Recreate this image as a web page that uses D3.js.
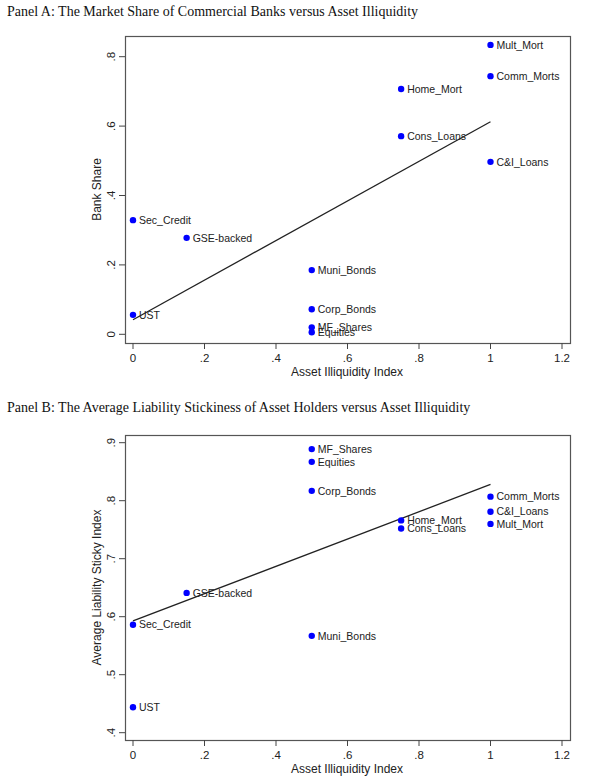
<!DOCTYPE html>
<html>
<head>
<meta charset="utf-8">
<script src="https://cdn.jsdelivr.net/npm/d3@7"></script>
<style>
  body { margin: 0; background: #fff; }
  .title { font-family: "Liberation Serif", "Times New Roman", serif; font-size: 14px; fill: #111; }
  .tick-label { font-family: "Liberation Sans", Arial, sans-serif; font-size: 11.5px; fill: #222; }
  .axis-title { font-family: "Liberation Sans", Arial, sans-serif; font-size: 12px; fill: #222; }
  .pt-label { font-family: "Liberation Sans", Arial, sans-serif; font-size: 10.5px; fill: #222; }
</style>
</head>
<body>
<div id="chart"></div>
<script>
// asset categories and their illiquidity index
const namesA = ["Mult_Mort", "Comm_Morts", "Home_Mort", "Cons_Loans", "C&I_Loans", "Sec_Credit",
                "GSE-backed", "Muni_Bonds", "Corp_Bonds", "MF_Shares", "Equities", "UST"];
const illiqA = [1, 1, 0.75, 0.75, 1, 0, 0.15, 0.5, 0.5, 0.5, 0.5, 0];
const bankShare = [0.834, 0.744, 0.707, 0.571, 0.497, 0.329, 0.278, 0.185, 0.072, 0.020, 0.006, 0.056];

const namesB = ["MF_Shares", "Equities", "Corp_Bonds", "Comm_Morts", "C&I_Loans", "Mult_Mort",
                "Home_Mort", "Cons_Loans", "GSE-backed", "Sec_Credit", "Muni_Bonds", "UST"];
const illiqB = [0.5, 0.5, 0.5, 1, 1, 1, 0.75, 0.75, 0.15, 0, 0.5, 0];
const sticky = [0.889, 0.867, 0.817, 0.807, 0.781, 0.760, 0.766, 0.752, 0.641, 0.586, 0.567, 0.444];

const xTicks = [0, 0.2, 0.4, 0.6, 0.8, 1, 1.2];
const yTicksA = [0, 0.2, 0.4, 0.6, 0.8];
const yTicksB = [0.4, 0.5, 0.6, 0.7, 0.8, 0.9];

// Stata-ish labels: ".2" instead of "0.2"
const fmt = d => String(+d.toFixed(1)).replace(/^0\./, ".");

const svg = d3.select("#chart").append("svg")
    .attr("width", 600)
    .attr("height", 777);

function drawPanel(opts) {
    let g = svg.append("g");

    // panel title
    g.append("text")
        .attr("class", "title")
        .attr("x", 7)
        .attr("y", opts.titleY)
        .text(opts.title);

    let x = d3.scaleLinear().domain([0, 1.2]).range([133, 562]);
    let y = d3.scaleLinear().domain(opts.yDomain).range(opts.yRange);

    // plot region border
    g.append("rect")
        .attr("x", 125.5)
        .attr("y", opts.boxTop + 0.5)
        .attr("width", 445)
        .attr("height", opts.boxBottom - opts.boxTop)
        .attr("fill", "none")
        .attr("stroke", "#555")
        .attr("stroke-width", 1.2);

    // y ticks (rotated labels)
    opts.yTicks.forEach(t => {
        g.append("line")
            .attr("x1", 119).attr("x2", 125)
            .attr("y1", y(t)).attr("y2", y(t))
            .attr("stroke", "#444");
        g.append("text")
            .attr("class", "tick-label")
            .attr("transform", `translate(115,${y(t)}) rotate(-90)`)
            .attr("text-anchor", "middle")
            .text(fmt(t));
    });

    // x ticks
    xTicks.forEach(t => {
        g.append("line")
            .attr("x1", x(t)).attr("x2", x(t))
            .attr("y1", opts.boxBottom).attr("y2", opts.boxBottom + 6)
            .attr("stroke", "#444");
        g.append("text")
            .attr("class", "tick-label")
            .attr("x", x(t))
            .attr("y", opts.boxBottom + 19)
            .attr("text-anchor", "middle")
            .text(fmt(t));
    });

    // axis titles
    g.append("text")
        .attr("class", "axis-title")
        .attr("x", 347)
        .attr("y", opts.boxBottom + 33)
        .attr("text-anchor", "middle")
        .text("Asset Illiquidity Index");

    g.append("text")
        .attr("class", "axis-title")
        .attr("transform", `translate(101,${(opts.boxTop + opts.boxBottom) / 2}) rotate(-90)`)
        .attr("text-anchor", "middle")
        .text(opts.yTitle);

    // linear fit
    let xs = opts.xs, ys = opts.ys;
    let mx = d3.mean(xs), my = d3.mean(ys);
    let sxy = d3.sum(xs, (v, i) => (v - mx) * (ys[i] - my));
    let sxx = d3.sum(xs, v => (v - mx) * (v - mx));
    let slope = sxy / sxx, icpt = my - slope * mx;
    let xExt = d3.extent(xs);

    g.append("line")
        .attr("x1", x(xExt[0])).attr("y1", y(icpt + slope * xExt[0]))
        .attr("x2", x(xExt[1])).attr("y2", y(icpt + slope * xExt[1]))
        .attr("stroke", "#222")
        .attr("stroke-width", 1.3);

    // points + labels
    let data = opts.names.map((n, i) => ({name: n, x: xs[i], y: ys[i]}));

    g.selectAll(".pt")
        .data(data)
        .enter().append("circle")
        .attr("cx", d => x(d.x))
        .attr("cy", d => y(d.y))
        .attr("r", 3.2)
        .attr("fill", "#0000ff");

    g.selectAll(".pt-label")
        .data(data)
        .enter().append("text")
        .attr("class", "pt-label")
        .attr("x", d => x(d.x) + 6)
        .attr("y", d => y(d.y))
        .attr("dy", "0.35em")
        .text(d => d.name);
}

drawPanel({
    title: "Panel A: The Market Share of Commercial Banks versus Asset Illiquidity",
    titleY: 16,
    yTitle: "Bank Share",
    yDomain: [0, 0.8], yRange: [334.3, 56.7],
    boxTop: 36, boxBottom: 343,
    yTicks: yTicksA,
    names: namesA, xs: illiqA, ys: bankShare
});

drawPanel({
    title: "Panel B: The Average Liability Stickiness of Asset Holders versus Asset Illiquidity",
    titleY: 412,
    yTitle: "Average Liability Sticky Index",
    yDomain: [0.4, 0.9], yRange: [732.7, 442.7],
    boxTop: 435, boxBottom: 740,
    yTicks: yTicksB,
    names: namesB, xs: illiqB, ys: sticky
});
</script>
</body>
</html>
